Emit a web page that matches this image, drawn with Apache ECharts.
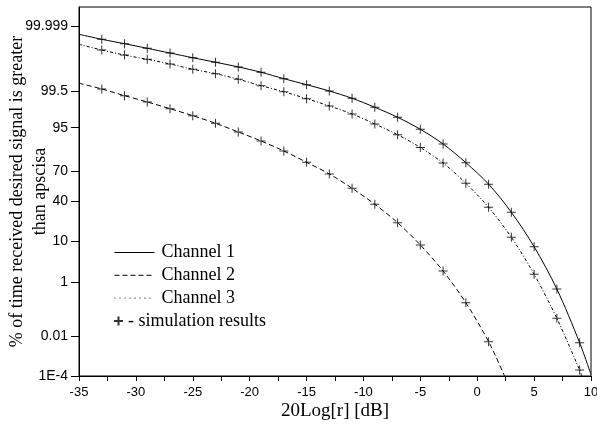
<!DOCTYPE html>
<html><head><meta charset="utf-8">
<script src="https://cdn.jsdelivr.net/npm/echarts@6/dist/echarts.min.js"></script>
<style>html,body{margin:0;padding:0;background:#fff}#c{width:597px;height:426px}</style>
</head><body><div id="c"></div>
<script>
// ---- data (percent of time signal exceeds abscissa) ----
const dbGrid = [-35,-33,-31,-29,-27,-25,-23,-21,-19,-17,-15,-13,-11,-9,-7,-5,-3,-1,1,3,5,7,9];
const channel1 = [99.99745,99.99559,99.9930,99.98875,99.9820,99.9716,99.9566,99.9335,99.8937,99.8175,99.704,99.52,99.185,98.50,97.21,94.55,88.97,77.13,57.50,29.63,7.75,0.60,0.00492];
const channel1End = [10, 0.00012];
const channel2 = [99.736,99.588,99.323,98.948,98.358,97.465,96.06,93.75,90.35,85.18,77.43,67.44,53.31,37.11,21.10,8.41,2.028,0.2085,0.00548];
const channel2End = [2.4, 0.0001];
const channel3 = [99.99253,99.98668,99.978,99.9671,99.9492,99.918,99.880,99.809,99.680,99.494,99.162,98.624,97.71,95.91,92.84,87.16,76.89,58.39,34.20,11.92,1.646,0.0543,0.000212];
const channel3End = [9.2, 0.0001];
const yTickValues = [1e-4,0.01,1,10,40,70,95,99.5,99.999];
const yTickLabels = ['1E-4','0.01','1','10','40','70','95','99.5','99.999'];
const yRangePct = [1e-4, 99.9999];

// ---- normal probability scale ----
function probit(p){
  const a=[-3.969683028665376e+01,2.209460984245205e+02,-2.759285104469687e+02,1.383577518672690e+02,-3.066479806614716e+01,2.506628277459239e+00];
  const b=[-5.447609879822406e+01,1.615858368580409e+02,-1.556989798598866e+02,6.680131188771972e+01,-1.328068155288572e+01];
  const c=[-7.784894002430293e-03,-3.223964580411365e-01,-2.400758277161838e+00,-2.549732539343734e+00,4.374664141464968e+00,2.938163982698783e+00];
  const d=[7.784695709041462e-03,3.224671290700398e-01,2.445134137142996e+00,3.754408661907416e+00];
  const pl=0.02425, ph=1-pl; let q,r;
  if(p<pl){ q=Math.sqrt(-2*Math.log(p)); return (((((c[0]*q+c[1])*q+c[2])*q+c[3])*q+c[4])*q+c[5])/((((d[0]*q+d[1])*q+d[2])*q+d[3])*q+1); }
  if(p<=ph){ q=p-0.5; r=q*q; return (((((a[0]*r+a[1])*r+a[2])*r+a[3])*r+a[4])*r+a[5])*q/(((((b[0]*r+b[1])*r+b[2])*r+b[3])*r+b[4])*r+1); }
  q=Math.sqrt(-2*Math.log(1-p)); return -(((((c[0]*q+c[1])*q+c[2])*q+c[3])*q+c[4])*q+c[5])/((((d[0]*q+d[1])*q+d[2])*q+d[3])*q+1);
}
const toZ = pct => probit(pct/100);
const yTickZ = yTickValues.map(toZ);

function linePts(vals, end){ const pts = vals.map((v,i)=>[dbGrid[i], toZ(v)]); pts.push([end[0], toZ(end[1])]); return pts; }
function simPts(vals){ return vals.slice(1).map((v,i)=>[dbGrid[i+1], toZ(v)]); }

const crossPath = 'path://M4,0H5V4H9V5H5V9H4V5H0V4H4Z';
const crossBold = 'path://M3.5,0H5.5V3.5H9V5.5H5.5V9H3.5V5.5H0V3.5H3.5Z';
const serif = 'Liberation Serif', sans = 'Liberation Sans';

const chart = echarts.init(document.getElementById('c'));
const lineSer = (name, vals, end, type) => ({
  type:'line', name, data: linePts(vals,end), symbol:'none', showSymbol:false, smooth:0.3, silent:true,
  itemStyle:{color:'#000'}, lineStyle:{color:'#000', width:1, type}, z:2
});
const simSer = vals => ({
  type:'scatter', name:'simulation results', data: simPts(vals), symbol: crossPath, symbolSize:[9,9],
  itemStyle:{color:'#000'}, silent:true, z:3
});
chart.setOption({
  animation:false,
  grid:{left:79, right:6, top:7, bottom:50, show:true, borderColor:'#000', borderWidth:1, backgroundColor:'transparent',
        containLabel:false, outerBoundsMode:'none'},
  xAxis:{
    type:'value', min:-35, max:10, interval:5,
    name:'20Log[r] [dB]', nameLocation:'middle', nameGap:26, nameMoveOverlap:false,
    nameTextStyle:{fontFamily:serif, fontSize:19, color:'#000'},
    axisLine:{onZero:false, lineStyle:{color:'#000', width:1}},
    axisTick:{show:true, length:5, lineStyle:{color:'#000'}},
    minorTick:{show:true, splitNumber:2, length:5, lineStyle:{color:'#000'}},
    splitLine:{show:false}, minorSplitLine:{show:false},
    axisLabel:{fontFamily:sans, fontSize:13, color:'#000', margin:10}
  },
  yAxis:{
    type:'value', min:toZ(yRangePct[0]), max:toZ(yRangePct[1]),
    name:'% of time received desired signal is greater\nthan apscisa', nameLocation:'middle', nameGap:27, nameRotate:90, nameMoveOverlap:false,
    nameTextStyle:{fontFamily:serif, fontSize:18, color:'#000', lineHeight:23},
    axisLine:{show:true, onZero:false, lineStyle:{color:'#000', width:1}},
    axisTick:{show:true, length:8, customValues:yTickZ, lineStyle:{color:'#000'}},
    splitLine:{show:false},
    axisLabel:{fontFamily:sans, fontSize:14, color:'#000', margin:11, customValues:yTickZ,
      formatter:v=>{let bi=0; yTickZ.forEach((z,i)=>{ if(Math.abs(z-v)<Math.abs(yTickZ[bi]-v)) bi=i; }); return yTickLabels[bi];}}
  },
  legend:[
    {orient:'vertical', left:114, top:243.5, padding:0, itemWidth:40, itemHeight:12, itemGap:4.8, selectedMode:false,
     textStyle:{fontFamily:serif, fontSize:18, color:'#000', lineHeight:18, padding:[0,0,0,2]},
     data:[{name:'Channel 1', itemStyle:{opacity:0}, lineStyle:{type:'solid', width:1, color:'#000'}},
           {name:'Channel 2', itemStyle:{opacity:0}, lineStyle:{type:[5,3], width:1, color:'#000'}},
           {name:'Channel 3', itemStyle:{opacity:0}, lineStyle:{type:[1,4], width:1, color:'#000'}}]},
    {orient:'vertical', left:114, top:312, padding:0, itemWidth:9, itemHeight:9, selectedMode:false, formatter:'- {name}',
     textStyle:{fontFamily:serif, fontSize:18, color:'#000', lineHeight:18},
     data:[{name:'simulation results', icon:crossBold, itemStyle:{color:'#000'}}]}
  ],
  series:[
    lineSer('Channel 1', channel1, channel1End, 'solid'),
    lineSer('Channel 2', channel2, channel2End, [5,3]),
    lineSer('Channel 3', channel3, channel3End, [3,2,1,2]),
    simSer(channel1), simSer(channel2), simSer(channel3)
  ]
});
</script></body></html>
